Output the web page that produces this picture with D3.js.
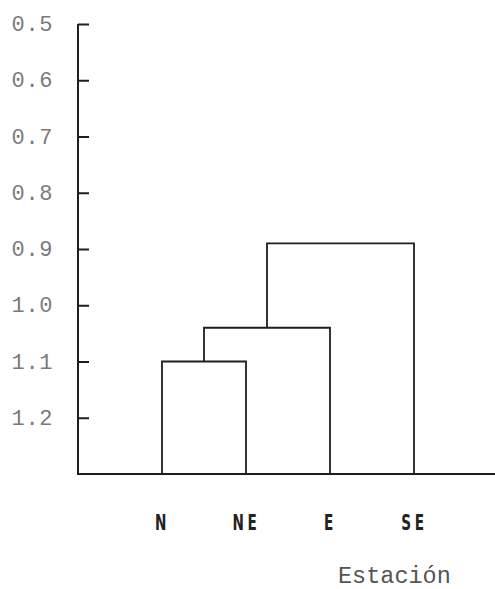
<!DOCTYPE html>
<html><head><meta charset="utf-8">
<script src="https://cdn.jsdelivr.net/npm/d3@7/dist/d3.min.js"></script>
<style>body{margin:0;background:#fff}svg{display:block}</style>
</head><body>
<svg id="c" width="495" height="589"></svg>
<script>
const leaves = ["N", "NE", "E", "SE"];
const yTicks = [0.5, 0.6, 0.7, 0.8, 0.9, 1.0, 1.1, 1.2];
const yTickLabels = ["0.5", "0.6", "0.7", "0.8", "0.9", "1.0", "1.1", "1.2"];
const mergeLeft = ["N", "c1", "c2"];
const mergeRight = ["NE", "E", "SE"];
const mergeNames = ["c1", "c2", "c3"];
const mergeHeights = [1.10, 1.04, 0.89];
const yDomain = [0.5, 1.3];
const xTitle = "Estación";

const svg = d3.select("#c");
const axisX = 78, baseY = 474;
const y = d3.scaleLinear().domain(yDomain).range([24, baseY]);
const x = d3.scalePoint().domain(leaves).range([162, 414]);
const ink = "#1e1e1e";

// node positions
const pos = {};
leaves.forEach(l => pos[l] = {x: x(l), h: yDomain[1]});
mergeNames.forEach((m, i) => {
  const a = pos[mergeLeft[i]], b = pos[mergeRight[i]];
  const h = mergeHeights[i];
  svg.append("path")
    .attr("d", `M${a.x},${y(a.h)}V${y(h)}H${b.x}V${y(b.h)}`)
    .attr("fill", "none").attr("stroke", ink).attr("stroke-width", 1.8);
  pos[m] = {x: (a.x + b.x) / 2, h: h};
});

// y axis
const yAxis = d3.axisRight(y).tickValues(yTicks).tickSize(11)
  .tickFormat((d, i) => "");
const gy = svg.append("g").attr("transform", `translate(${axisX},0)`).call(yAxis);
gy.select(".domain").remove();
gy.selectAll(".tick line").attr("stroke", ink).attr("stroke-width", 2);
svg.append("line").attr("x1", axisX).attr("x2", axisX).attr("y1", y(0.5)).attr("y2", baseY + 1)
  .attr("stroke", ink).attr("stroke-width", 2);
// y tick labels
svg.selectAll("text.yl").data(yTicks).enter().append("text")
  .attr("class", "yl")
  .attr("x", 53).attr("y", d => y(d) + 7)
  .attr("text-anchor", "end")
  .attr("font-family", "Liberation Mono, monospace")
  .attr("font-size", 22).attr("letter-spacing", 0.6).attr("fill", "#7a7a7a")
  .text((d, i) => yTickLabels[i]);

// x baseline
svg.append("line").attr("x1", axisX - 1).attr("x2", 495).attr("y1", baseY).attr("y2", baseY)
  .attr("stroke", ink).attr("stroke-width", 2);

// x labels
const xAxis = d3.axisBottom(x).tickSize(0).tickPadding(0);
const gx = svg.append("g").attr("transform", `translate(0,${baseY})`).call(xAxis);
gx.select(".domain").remove();
gx.selectAll(".tick text")
  .attr("y", 56).attr("dy", 0)
  .attr("transform", "scale(0.62,1)")
  .attr("font-family", "DejaVu Sans, sans-serif")
  .attr("font-weight", "bold")
  .attr("font-size", 22).attr("letter-spacing", 6)
  .attr("fill", "#222");

svg.append("text").attr("x", 338).attr("y", 583)
  .attr("font-family", "Liberation Mono, monospace")
  .attr("font-size", 23.5).attr("fill", "#555")
  .text(xTitle);
</script>
</body></html>
